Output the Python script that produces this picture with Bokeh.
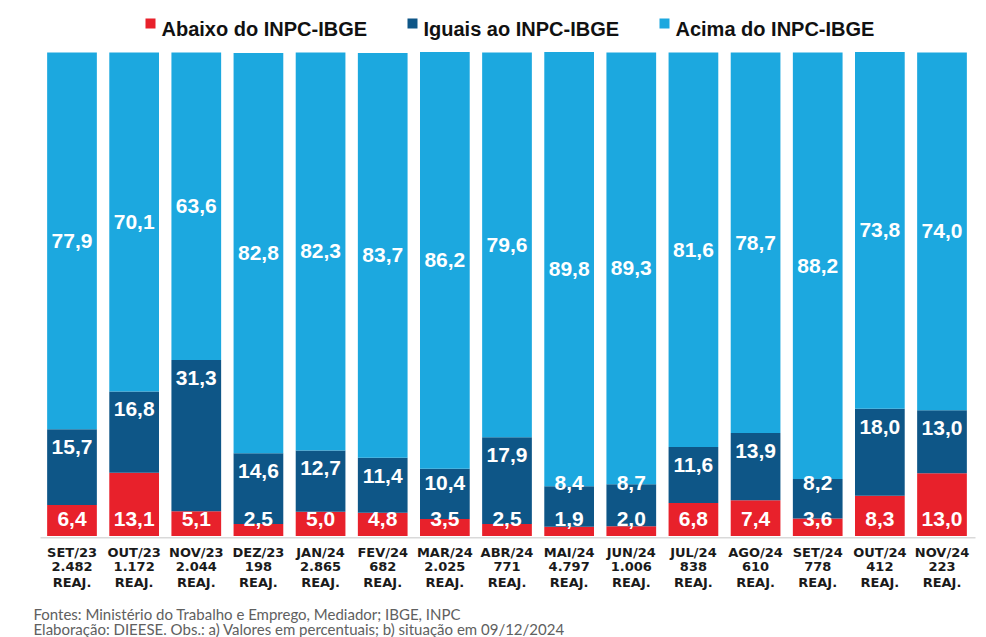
from bokeh.plotting import figure
from bokeh.models import ColumnDataSource, Range1d
from bokeh.embed import file_html
from bokeh.resources import INLINE
from bokeh.core.properties import value

# ---------------- data ----------------
months = ["SET/23", "OUT/23", "NOV/23", "DEZ/23", "JAN/24", "FEV/24", "MAR/24",
          "ABR/24", "MAI/24", "JUN/24", "JUL/24", "AGO/24", "SET/24", "OUT/24", "NOV/24"]
reajustes = [2482, 1172, 2044, 198, 2865, 682, 2025, 771, 4797, 1006, 838, 610, 778, 412, 223]
abaixo = [6.4, 13.1, 5.1, 2.5, 5.0, 4.8, 3.5, 2.5, 1.9, 2.0, 6.8, 7.4, 3.6, 8.3, 13.0]
iguais = [15.7, 16.8, 31.3, 14.6, 12.7, 11.4, 10.4, 17.9, 8.4, 8.7, 11.6, 13.9, 8.2, 18.0, 13.0]
acima = [77.9, 70.1, 63.6, 82.8, 82.3, 83.7, 86.2, 79.6, 89.8, 89.3, 81.6, 78.7, 88.2, 73.8, 74.0]
series_names = ["Abaixo do INPC-IBGE", "Iguais ao INPC-IBGE", "Acima do INPC-IBGE"]
suffix = "REAJ."
footer_lines = ["Fontes: Ministério do Trabalho e Emprego, Mediador; IBGE, INPC",
                "Elaboração: DIEESE. Obs.: a) Valores em percentuais; b) situação em 09/12/2024"]

# ---------------- style / layout ----------------
colors = ["#E8212B", "#0E5687", "#1CA8DF"]
W, H = 986, 637
X1_PX = 71.5        # pixel x of first category centre
PITCH = 62.143      # pixels per category
Y0_PX = 535.5       # pixel y of value 0
PX_PER = 4.835      # pixels per percentage point
BOLD = value("Liberation Sans")


def sx(px):  # pixel -> data x
    return 1 + (px - X1_PX) / PITCH


def sy(py):  # pixel -> data y
    return (Y0_PX - py) / PX_PER


def fmt(v):
    return f"{v:.1f}".replace(".", ",")


xs = list(range(1, len(months) + 1))
src = ColumnDataSource(dict(x=xs, abaixo=abaixo, iguais=iguais, acima=acima))

p = figure(width=W, height=H, output_backend="svg", toolbar_location=None,
           x_range=Range1d(sx(0), sx(W)), y_range=Range1d(sy(H), sy(0)),
           x_axis_type=None, y_axis_type=None, min_border=0)
p.outline_line_color = None
p.grid.visible = False
p.background_fill_color = "white"
p.border_fill_color = "white"

p.vbar_stack(["abaixo", "iguais", "acima"], x="x", width=0.8, color=colors,
             line_color=None, source=src)

# baseline
p.segment(x0=[sx(40)], y0=[-0.35], x1=[sx(975)], y1=[-0.35],
          line_color="#D9D9D9", line_width=1.5)

# value labels
bottom_off = 17.5 / PX_PER
y_bot = [bottom_off] * len(xs)
y_mid = []
y_top = []
for a, g, c in zip(abaixo, iguais, acima):
    t = a + g
    y_mid.append(max(t - 18 / PX_PER, bottom_off + 36 / PX_PER))
    y_top.append((t + a + g + c) / 2)

lab_kw = dict(text_color="white", text_font=BOLD, text_font_style="bold",
              text_font_size="21px", text_align="center", text_baseline="middle")
p.text(x=xs, y=y_bot, text=[fmt(v) for v in abaixo], **lab_kw)
p.text(x=xs, y=y_mid, text=[fmt(v) for v in iguais], **lab_kw)
p.text(x=xs, y=y_top, text=[fmt(v) for v in acima], **lab_kw)

# category labels
cat_kw = dict(text_color="#1A1A1A", text_font=value("DejaVu Sans"), text_font_style="bold",
              text_font_size="13px", text_align="center", text_baseline="middle")
p.text(x=xs, y=[sy(551.5)] * len(xs), text=months, **cat_kw)
p.text(x=xs, y=[sy(566)] * len(xs), text=[f"{n:,}".replace(",", ".") for n in reajustes], **cat_kw)
p.text(x=xs, y=[sy(581.5)] * len(xs), text=[suffix] * len(xs), **cat_kw)

# legend (manual)
sq_left = [145, 407, 659]
p.rect(x=[sx(l + 5) for l in sq_left], y=[sy(23)] * 3, width=10, height=10,
       width_units="screen", height_units="screen", fill_color=colors, line_color=None)
p.text(x=[sx(l + 16) for l in sq_left], y=[sy(28)] * 3, text=series_names,
       text_color="#111111", text_font=BOLD, text_font_style="bold",
       text_font_size="20px", text_align="left", text_baseline="alphabetic")

# footer
p.text(x=[sx(33)] * 2, y=[sy(613), sy(628.5)], text=footer_lines,
       text_color="#606060", text_font=value("Lato"), text_font_size="15px",
       text_align="left", text_baseline="alphabetic")

open("out.html", "w").write(file_html(p, INLINE))
